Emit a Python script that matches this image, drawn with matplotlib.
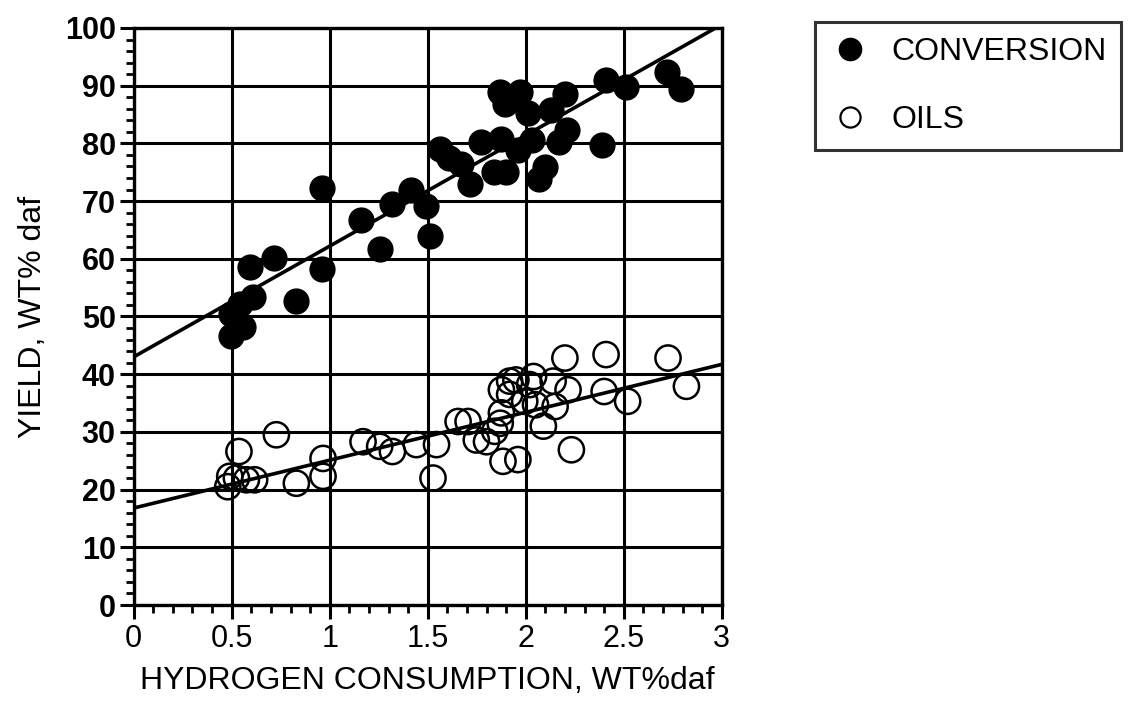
import numpy as np
import matplotlib
matplotlib.use("Agg")
import matplotlib.pyplot as plt
from matplotlib.ticker import MultipleLocator
from matplotlib.lines import Line2D

plt.rcParams['font.family'] = ['Liberation Sans', 'DejaVu Sans']

# Hydrogen consumption (wt% daf) vs. conversion yield
conv_h2 = [0.498, 0.498, 0.54, 0.558, 0.592, 0.609, 0.714, 0.83, 0.961, 0.963,
           1.162, 1.259, 1.32, 1.417, 1.493, 1.514, 1.565, 1.61, 1.67, 1.714,
           1.774, 1.84, 1.876, 1.9, 1.867, 1.893, 1.969, 2.01, 1.96, 2.03,
           2.07, 2.097, 2.13, 2.17, 2.2, 2.21, 2.39, 2.41, 2.51, 2.72, 2.79]
conv_yield = [46.6, 50.4, 52.2, 48.1, 58.6, 53.3, 60.1, 52.7, 72.3, 58.2,
              66.7, 61.7, 69.5, 71.9, 69.2, 64.0, 79.1, 77.5, 76.5, 73.0,
              80.2, 75.0, 80.8, 75.0, 88.9, 86.9, 88.9, 85.2, 78.8, 80.5,
              73.9, 75.9, 85.7, 80.2, 88.6, 82.3, 79.7, 91.0, 89.8, 92.4, 89.5]

# Hydrogen consumption vs. oil yield
oil_h2 = [0.48, 0.49, 0.524, 0.537, 0.575, 0.617, 0.728, 0.83, 0.966, 0.966,
          1.17, 1.255, 1.32, 1.442, 1.527, 1.545, 1.655, 1.706, 1.748, 1.8,
          1.842, 1.87, 1.876, 1.884, 1.96, 1.876, 1.918, 1.918, 1.95, 2.02,
          1.995, 2.05, 2.04, 2.09, 2.15, 2.14, 2.2, 2.216, 2.233, 2.41,
          2.40, 2.52, 2.726, 2.82]
oil_yield = [20.5, 22.3, 22.0, 26.6, 21.7, 21.7, 29.5, 21.1, 25.4, 22.3,
             28.3, 27.5, 26.6, 27.8, 22.0, 27.8, 31.8, 31.8, 28.6, 28.3,
             30.1, 31.5, 33.3, 24.9, 25.2, 37.3, 38.8, 36.5, 39.0, 38.2,
             35.3, 34.7, 39.6, 31.0, 34.4, 38.8, 42.8, 37.3, 26.9, 43.4,
             37.0, 35.3, 42.8, 37.9]

# Trend lines (intercept, slope)
conv_fit = (43.0, 19.2)
oil_fit = (16.8, 8.3)

fig = plt.figure(figsize=(11.33, 7.03), dpi=100)
ax = fig.add_axes([0.118, 0.1394, 0.519, 0.8208])

ax.set_xlim(0, 3)
ax.set_ylim(0, 100)

ax.xaxis.set_major_locator(MultipleLocator(0.5))
ax.xaxis.set_minor_locator(MultipleLocator(0.1))
ax.yaxis.set_major_locator(MultipleLocator(10))
ax.yaxis.set_minor_locator(MultipleLocator(2))
ax.xaxis.set_major_formatter(plt.FuncFormatter(lambda v, p: f"{v:g}"))

ax.grid(True, which='major', color='black', linewidth=2.2)
ax.set_axisbelow(True)
for s in ax.spines.values():
    s.set_linewidth(2.4)

ax.tick_params(which='major', direction='out', length=10, width=2.2, pad=4)
ax.tick_params(which='minor', direction='out', length=5.5, width=2.0)
ax.tick_params(axis='x', which='major', labelsize=22, pad=4)
ax.tick_params(axis='y', which='major', labelsize=22, pad=3)
for lbl in ax.get_yticklabels():
    lbl.set_fontweight('bold')

xs = np.array([0, 3])
ax.plot(xs, conv_fit[0] + conv_fit[1] * xs, color='black', linewidth=2.6, zorder=3)
ax.plot(xs, oil_fit[0] + oil_fit[1] * xs, color='black', linewidth=2.6, zorder=3)

ax.scatter(conv_h2, conv_yield, s=320, c='black', edgecolors='black',
           linewidths=1, zorder=4, clip_on=False)
ax.scatter(oil_h2, oil_yield, s=330, facecolors='none', edgecolors='black',
           linewidths=1.8, zorder=4, clip_on=False)

ax.set_xlabel("HYDROGEN CONSUMPTION, WT%daf", fontsize=23, labelpad=8)
ax.set_ylabel("YIELD, WT% daf", fontsize=23, labelpad=12)

handles = [Line2D([], [], marker='o', linestyle='none', markersize=16,
                  markerfacecolor='black', markeredgecolor='black'),
           Line2D([], [], marker='o', linestyle='none', markersize=14.5,
                  markerfacecolor='none', markeredgecolor='black', markeredgewidth=1.6)]
leg = fig.legend(handles, ["CONVERSION", "OILS"], loc='upper left',
                 bbox_to_anchor=(0.7195, 0.968), fontsize=23, frameon=True,
                 fancybox=False, edgecolor='black', borderpad=0.45,
                 labelspacing=1.2, handletextpad=0.65, handlelength=1.3,
                 borderaxespad=0)
leg.get_frame().set_linewidth(2.2)

fig.savefig("out.png", dpi=100, facecolor='white')
